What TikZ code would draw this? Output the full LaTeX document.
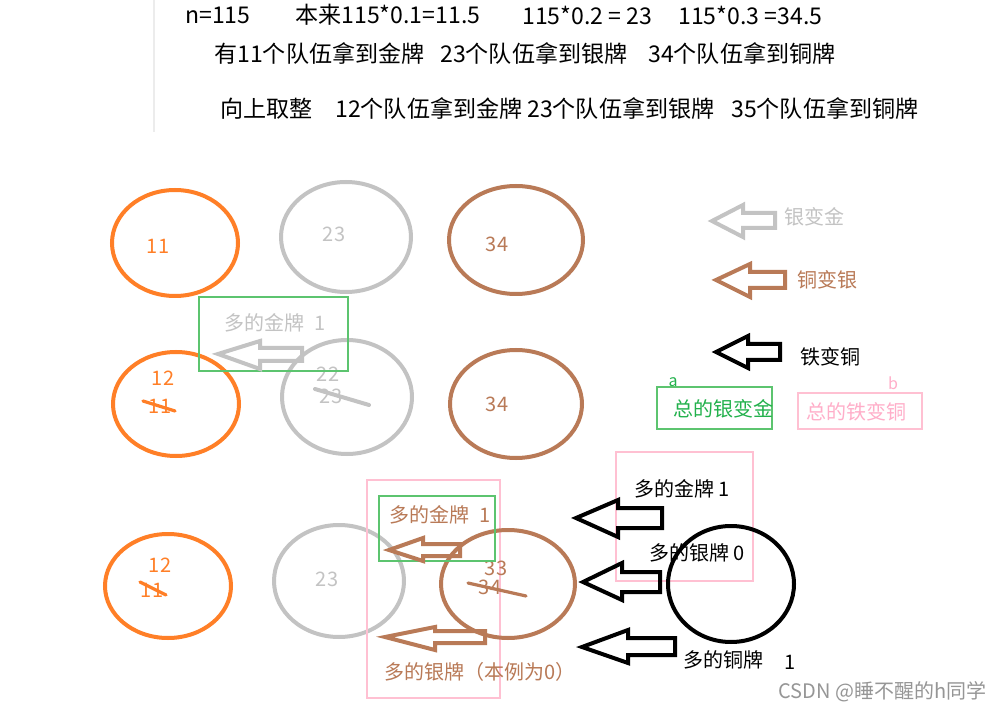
\documentclass[tikz,border=0pt]{standalone}
\usepackage{fontspec}
\setmainfont{Noto Sans CJK SC}
\definecolor{orangeC}{RGB}{255,127,39}
\definecolor{grayC}{RGB}{195,195,195}
\definecolor{brownC}{RGB}{185,122,87}
\definecolor{greenR}{RGB}{92,196,111}
\definecolor{greenT}{RGB}{34,177,76}
\definecolor{pinkR}{RGB}{255,192,210}
\definecolor{pinkT}{RGB}{255,174,201}
\definecolor{rulegray}{RGB}{236,236,236}
\definecolor{wm}{RGB}{150,150,150}
% block arrow pointing left: color, tipx, tipy, backx, headtop, headbot, right, shafttop, shaftbot
\newcommand{\blkarrow}[9]{%
  \draw[#1, line width=3pt, line join=miter] (#2,#3) -- (#4,#5) -- (#4,#8) -- (#7,#8) -- (#7,#9) -- (#4,#9) -- (#4,#6) -- cycle;}
\begin{document}
\begin{tikzpicture}[x=0.75pt,y=-0.75pt,
  ell/.style={line width=3pt},
  toptxt/.style={font=\fontsize{17.3}{19}\selectfont, anchor=west, inner sep=0pt},
  lbl/.style={font=\fontsize{15}{16}\selectfont, inner sep=0pt},
  strike/.style={line width=2.4pt, line cap=round}]
\useasboundingbox[fill=white] (0,0) rectangle (995,712);
% faint vertical rule
\draw[rulegray, line width=2.2pt] (154,0) -- (154,132);
% top text
\node[toptxt] (t1a) at (185,15) {n=115};
\node[toptxt] (t1b) at (295,15) {本来115*0.1=11.5};
\node[toptxt] (t1c) at (522,15) {115*0.2 = 23};
\node[toptxt] (t1d) at (678,15) {115*0.3 =34.5};
\node[toptxt] (t2a) at (214,54) {有11个队伍拿到金牌};
\node[toptxt] (t2b) at (440,54) {23个队伍拿到银牌};
\node[toptxt] (t2c) at (648,54) {34个队伍拿到铜牌};
\node[toptxt] (t3a) at (220,109) {向上取整};
\node[toptxt] (t3b) at (335,109) {12个队伍拿到金牌};
\node[toptxt] (t3c) at (527,109) {23个队伍拿到银牌};
\node[toptxt] (t3d) at (731,109) {35个队伍拿到铜牌};
% row A
\draw[orangeC, ell] (175,243) ellipse [x radius=63, y radius=53];
\node[lbl, text=orangeC] (a1) at (158,246) {11};
\draw[grayC, ell] (346,237) ellipse [x radius=65, y radius=55];
\node[lbl, text=grayC] (a2) at (334,234) {23};
\draw[brownC, ell] (516,240) ellipse [x radius=67, y radius=54];
\node[lbl, text=brownC] (a3) at (497,244) {34};
% row B
\draw[orangeC, ell] (176,404) ellipse [x radius=63, y radius=52];
\node[lbl, text=orangeC] (b1n) at (163,378) {12};
\node[lbl, text=orangeC] (b1o) at (160,406) {11};
\draw[orangeC, strike] (143,401) -- (175,411);
\draw[grayC, ell] (347,397) ellipse [x radius=65, y radius=57];
\node[lbl, text=grayC] (b2n) at (328,374) {22};
\node[lbl, text=grayC] (b2o) at (331,396) {23};
\draw[grayC, strike, line width=3pt] (315,389) -- (369,405);
\draw[brownC, ell] (516,404) ellipse [x radius=66, y radius=54];
\node[lbl, text=brownC] (b3) at (497,404) {34};
\draw[greenR, line width=0.8pt] (199,297) rectangle (348,371);
\node[lbl, text=grayC] (bg) at (275,323) {多的金牌\enspace 1};
\blkarrow{grayC}{218}{354}{260}{341}{369}{302}{348}{361}
% legend
\blkarrow{grayC}{712}{221}{743}{205}{237}{775}{213}{228}
\node[lbl, text=grayC, anchor=west] (l1) at (784,217) {银变金};
\blkarrow{brownC}{716}{280}{750}{264}{297}{785}{272}{288}
\node[lbl, text=brownC, anchor=west] (l2) at (797,280) {铜变银};
\blkarrow{black}{716}{352}{748}{336}{368}{780}{344}{360}
\node[lbl, text=black, anchor=west] (l3) at (800,357) {铁变铜};
\node[lbl, text=greenT, font=\fontsize{12}{12}\selectfont] (la) at (673,382) {a};
\draw[greenR, line width=0.8pt] (657,387) rectangle (772,429);
\node[lbl, text=greenT, anchor=west] (ga) at (673,409) {总的银变金};
\node[lbl, text=pinkT, font=\fontsize{12}{12}\selectfont] (lb) at (893,383) {b};
\draw[pinkR, line width=0.8pt] (798,393) rectangle (922,429);
\node[lbl, text=pinkT, anchor=west] (gb) at (806,412) {总的铁变铜};
% row C
\draw[orangeC, ell] (168,586) ellipse [x radius=63, y radius=52];
\node[lbl, text=orangeC] (c1n) at (160,565) {12};
\node[lbl, text=orangeC] (c1o) at (152,590) {11};
\draw[orangeC, strike] (140,582) -- (166,595);
\draw[grayC, ell] (339,581) ellipse [x radius=65, y radius=56];
\node[lbl, text=grayC] (c2) at (327,579) {23};
\draw[pinkR, line width=0.8pt] (367,480) rectangle (500,698);
\draw[brownC, ell] (508,584) ellipse [x radius=67, y radius=54];
\node[lbl, text=brownC] (c3n) at (496,568) {33};
\node[lbl, text=brownC] (c3o) at (490,587) {34};
\draw[brownC, strike] (468,583) -- (526,596);
\draw[greenR, line width=0.8pt] (379,496) rectangle (495,561);
\node[lbl, text=brownC] (cg) at (440,515) {多的金牌\enspace 1};
\blkarrow{brownC}{389}{550}{423}{538}{561}{460}{544}{556}
\blkarrow{brownC}{385}{637}{435}{627}{650}{485}{631}{643}
\node[lbl, text=brownC, anchor=west] (cs) at (384,672) {多的银牌（本例为0）};
% right group
\draw[pinkR, line width=0.8pt] (616,452) rectangle (753,581);
\node[lbl, text=black, anchor=west] (r1) at (634,489) {多的金牌 1};
\node[lbl, text=black, anchor=west] (r2) at (649,553) {多的银牌 0};
\draw[black, ell] (731,584) ellipse [x radius=63, y radius=58];
\blkarrow{black}{576}{518}{618}{500}{537}{662}{508}{528}
\blkarrow{black}{583}{582}{622}{563}{600}{660}{572}{592}
\blkarrow{black}{582}{647}{628}{630}{663}{675}{638}{655}
\node[lbl, text=black, anchor=west] (r3) at (683,660) {多的铜牌};
\node[lbl, text=black] (r3n) at (790,662) {1};
\node[lbl, text=wm, anchor=west] (wmk) at (778,692) {CSDN @睡不醒的h同学};
\end{tikzpicture}
\end{document}
